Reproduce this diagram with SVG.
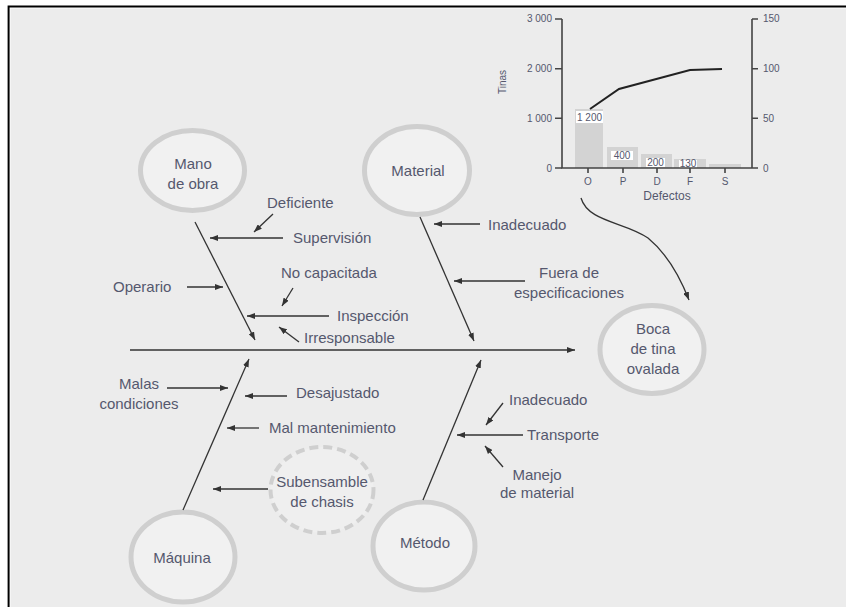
<svg xmlns="http://www.w3.org/2000/svg" width="846" height="607" viewBox="0 0 846 607">
  <style>
    .lbl { font-family: "Liberation Sans", Arial, sans-serif; font-size: 15px; fill: #55586e; }
    .mid { text-anchor: middle; }
    .ch { font-family: "Liberation Sans Narrow", "Liberation Sans", Arial, sans-serif; font-size: 10px; fill: #55586e; }
    .node { fill: #f1f1f1; stroke: #cfcfcf; stroke-width: 5; }
    .dash { fill: #efefef; stroke: #cfcfcf; stroke-width: 4; stroke-dasharray: 9 5; }
    .ln { stroke: #333; stroke-width: 1.3; fill: none; marker-end: url(#ah); }
    .ax { stroke: #444; stroke-width: 1.6; fill: none; }
    .bar { fill: #d3d3d3; }
    .tag { fill: #ffffff; }
  </style>
  <defs>
    <marker id="ah" markerUnits="userSpaceOnUse" markerWidth="9" markerHeight="6" refX="8" refY="3" orient="auto">
      <path d="M0,0 L8,3 L0,6 Z" fill="#333"/>
    </marker>
  </defs>

  <!-- page frame -->
  <rect x="0" y="0" width="846" height="607" fill="#ffffff"/>
  <rect x="10.5" y="8.5" width="836" height="599" fill="#ececec"/>
  <path d="M8.6,607 V6.6 H846" stroke="#000" stroke-width="2" fill="none"/>

  <!-- Pareto chart -->
  <g id="pareto">
    <rect class="bar" x="575" y="109" width="28" height="59"/>
    <rect class="bar" x="607" y="147" width="31" height="21"/>
    <rect class="bar" x="641" y="154" width="31" height="14"/>
    <rect class="bar" x="674" y="159" width="32" height="9"/>
    <rect class="bar" x="709" y="164" width="32" height="4"/>
    <rect class="tag" x="576" y="111" width="27" height="12"/>
    <rect class="tag" x="611" y="151" width="22" height="9"/>
    <rect class="tag" x="646" y="158" width="19" height="9"/>
    <rect class="tag" x="679" y="160" width="18" height="8"/>
    <text class="ch mid" x="589.5" y="121">1 200</text>
    <text class="ch mid" x="622" y="159">400</text>
    <text class="ch mid" x="655.5" y="166">200</text>
    <text class="ch mid" x="688" y="167">130</text>

    <path class="ax" d="M562,19 V168 H752 M752,19 V168"/>
    <path class="ax" d="M555,19 H562 M555,68.7 H562 M555,118.3 H562 M555,168 H562 M752,19 H758 M752,68.7 H758 M752,118.3 H758 M752,168 H758 M588,168 V173 M623,168 V173 M657,168 V173 M690,168 V173 M725,168 V173"/>
    <polyline points="590,109 619,89 690,70 722,69" fill="none" stroke="#222" stroke-width="2"/>

    <text class="ch" x="552" y="22" text-anchor="end">3 000</text>
    <text class="ch" x="552" y="72" text-anchor="end">2 000</text>
    <text class="ch" x="552" y="122" text-anchor="end">1 000</text>
    <text class="ch" x="552" y="172" text-anchor="end">0</text>
    <text class="ch" x="763" y="22">150</text>
    <text class="ch" x="763" y="72">100</text>
    <text class="ch" x="763" y="122">50</text>
    <text class="ch" x="763" y="172">0</text>
    <text class="ch mid" x="588" y="185">O</text>
    <text class="ch mid" x="623" y="185">P</text>
    <text class="ch mid" x="657" y="185">D</text>
    <text class="ch mid" x="690" y="185">F</text>
    <text class="ch mid" x="725" y="185">S</text>
    <text class="ch mid" x="667" y="200" style="font-size:12px">Defectos</text>
    <text class="ch mid" transform="translate(506,82) rotate(-90)">Tinas</text>
  </g>

  <!-- category nodes -->
  <g id="mano-de-obra">
    <ellipse class="node" cx="192.5" cy="170.5" rx="52" ry="40"/>
    <text class="lbl mid" x="193" y="169">Mano</text>
    <text class="lbl mid" x="193" y="189">de obra</text>
  </g>
  <g id="material">
    <ellipse class="node" cx="417" cy="170.5" rx="52.5" ry="44"/>
    <text class="lbl mid" x="418" y="176">Material</text>
  </g>
  <g id="maquina">
    <ellipse class="node" cx="183" cy="557" rx="52" ry="45"/>
    <text class="lbl mid" x="182" y="563">Máquina</text>
  </g>
  <g id="metodo">
    <ellipse class="node" cx="424" cy="546" rx="51" ry="44"/>
    <text class="lbl mid" x="425" y="548">Método</text>
  </g>
  <g id="subensamble">
    <ellipse class="dash" cx="322" cy="490" rx="51.5" ry="43"/>
    <text class="lbl mid" x="322" y="487">Subensamble</text>
    <text class="lbl mid" x="322" y="507">de chasis</text>
  </g>
  <g id="efecto">
    <ellipse class="node" cx="652" cy="349.5" rx="52" ry="44"/>
    <text class="lbl mid" x="653" y="334">Boca</text>
    <text class="lbl mid" x="653" y="354">de tina</text>
    <text class="lbl mid" x="653" y="374">ovalada</text>
  </g>

  <!-- cause labels -->
  <g id="causas">
    <text class="lbl" x="267" y="208">Deficiente</text>
    <text class="lbl" x="293" y="243">Supervisión</text>
    <text class="lbl" x="113" y="292">Operario</text>
    <text class="lbl" x="281" y="278">No capacitada</text>
    <text class="lbl" x="337" y="321">Inspección</text>
    <text class="lbl" x="304" y="343">Irresponsable</text>
    <text class="lbl" x="488" y="230">Inadecuado</text>
    <text class="lbl mid" x="569" y="278">Fuera de</text>
    <text class="lbl mid" x="569" y="298">especificaciones</text>
    <text class="lbl mid" x="139" y="389">Malas</text>
    <text class="lbl mid" x="139" y="409">condiciones</text>
    <text class="lbl" x="296" y="398">Desajustado</text>
    <text class="lbl" x="269" y="433">Mal mantenimiento</text>
    <text class="lbl" x="509" y="405">Inadecuado</text>
    <text class="lbl" x="527" y="440">Transporte</text>
    <text class="lbl mid" x="537" y="480">Manejo</text>
    <text class="lbl mid" x="537" y="498">de material</text>
  </g>

  <!-- connectors -->
  <g id="connectors">
    <line class="ln" x1="130" y1="350" x2="575" y2="350"/>
    <line class="ln" x1="195" y1="222" x2="255" y2="340"/>
    <line class="ln" x1="420" y1="217" x2="474" y2="341"/>
    <line class="ln" x1="183" y1="510" x2="249" y2="359"/>
    <line class="ln" x1="423" y1="500" x2="481" y2="360"/>

    <line class="ln" x1="283" y1="238" x2="210" y2="238"/>
    <line class="ln" x1="273" y1="214" x2="254" y2="232"/>
    <line class="ln" x1="187" y1="287" x2="223" y2="287"/>
    <line class="ln" x1="293" y1="288" x2="282" y2="306"/>
    <line class="ln" x1="329" y1="316" x2="247" y2="316"/>
    <line class="ln" x1="299" y1="342" x2="279" y2="327"/>
    <line class="ln" x1="480" y1="224" x2="434" y2="224"/>
    <line class="ln" x1="525" y1="281" x2="454" y2="281"/>
    <line class="ln" x1="167" y1="388" x2="228" y2="388"/>
    <line class="ln" x1="287" y1="396" x2="245" y2="396"/>
    <line class="ln" x1="259" y1="428" x2="227" y2="428"/>
    <line class="ln" x1="268" y1="489" x2="213" y2="489"/>
    <line class="ln" x1="503" y1="403" x2="486" y2="425"/>
    <line class="ln" x1="523" y1="435" x2="457" y2="435"/>
    <line class="ln" x1="503" y1="467" x2="485" y2="446"/>

    <path class="ln" d="M581,198 C588,222 625,222 648,238 C665,252 678,272 689,300"/>
  </g>
</svg>
